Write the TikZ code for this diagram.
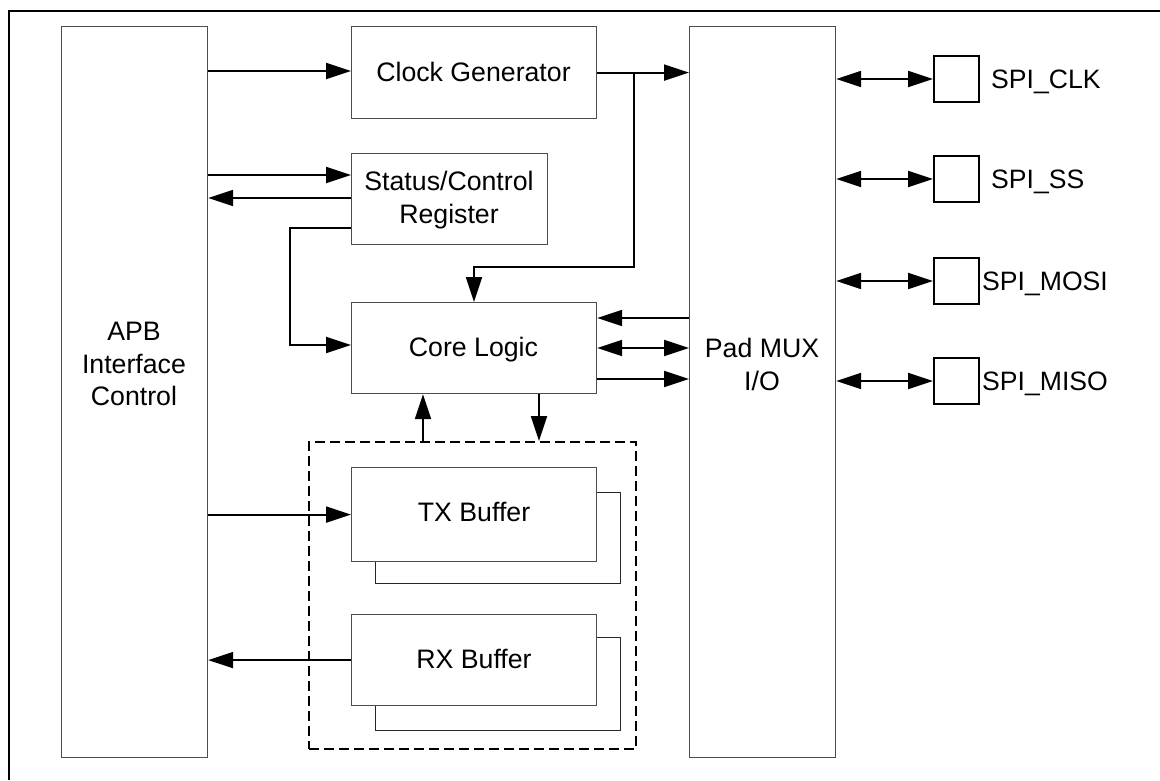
\documentclass[tikz,border=0pt]{standalone}
\usepackage{fontspec}
\setmainfont{Liberation Sans}
\usetikzlibrary{arrows.meta,calc}
\begin{document}
\begin{tikzpicture}[x=1pt,y=-1pt,
  box/.style={draw=black!70,line width=1.2pt,fill=white,inner sep=0pt,anchor=north west},
  shadowbox/.style={draw=black!85,line width=1.2pt,fill=white,inner sep=0pt,anchor=north west},
  pinbox/.style={draw=black,line width=2pt,fill=white,inner sep=0pt,minimum width=45pt,minimum height=46pt},
  dashbox/.style={draw=black,line width=2pt,dash pattern=on 10pt off 5pt,inner sep=0pt,anchor=north west},
  txt/.style={inner sep=0pt,font=\fontsize{26.7}{32.5}\selectfont,align=center},
  lbl/.style={inner sep=0pt,font=\fontsize{26.6}{32.5}\selectfont,anchor=base west},
  wire/.style={line width=2pt},
  arr/.style={line width=2pt,-{Triangle[length=25pt,width=16pt]}},
  darr/.style={line width=2pt,{Triangle[length=25pt,width=16pt]}-{Triangle[length=25pt,width=16pt]}},
  frame/.style={line width=2.2pt}]
\useasboundingbox (0,0) rectangle (1160,780);
% outer frame (top and left edges)
\draw[frame] (9,780) -- (9,11) -- (1160,11);

% main blocks
\node[box,minimum width=146pt,minimum height=731pt] (apb) at (61,26) {};
\node[box,minimum width=245pt,minimum height=92pt] (clk) at (351,26) {};
\node[box,minimum width=196pt,minimum height=91pt] (stat) at (351,153) {};
\node[box,minimum width=245pt,minimum height=91pt] (core) at (351,302) {};
\node[box,minimum width=146pt,minimum height=731pt] (pad) at (689,26) {};

% buffer group
\node[dashbox,minimum width=327pt,minimum height=307pt] (buf) at (308,441) {};
\node[shadowbox,minimum width=245pt,minimum height=91pt] (txs) at (375,492) {};
\node[box,minimum width=245pt,minimum height=94pt] (tx) at (351,467) {};
\node[shadowbox,minimum width=245pt,minimum height=93pt] (rxs) at (375,637) {};
\node[box,minimum width=245pt,minimum height=91pt] (rx) at (351,614) {};

% pins
\node[pinbox] (pclk) at (956.5,79) {};
\node[pinbox] (pss) at (956.5,179) {};
\node[pinbox] (pmosi) at (956.5,281) {};
\node[pinbox] (pmiso) at (956.5,381) {};

% texts
\node[txt,anchor=north] (apbt) at (134,322) {APB\\Interface\\Control};
\node[txt,anchor=base] (clkt) at (473.5,81.7) {Clock Generator};
\node[txt,anchor=north] (statt) at (449,171) {Status/Control\\Register};
\node[txt,anchor=base] (coret) at (473.5,356) {Core Logic};
\node[txt,anchor=base] (txt1) at (474,521.7) {TX Buffer};
\node[txt,anchor=base] (rxt1) at (474,668) {RX Buffer};
\node[txt,anchor=north] (padt) at (762,338) {Pad MUX\\I/O};
\node[lbl] (lclk) at (991,88) {SPI\_CLK};
\node[lbl] (lss) at (991,188) {SPI\_SS};
\node[lbl] (lmosi) at (982,290) {SPI\_MOSI};
\node[lbl] (lmiso) at (982,390) {SPI\_MISO};

% connectors
\draw[arr] (apb.east |- 0,71) -- (clk.west |- 0,71);
\draw[arr] (clk.east) -- (clk.east -| pad.west);
\coordinate (br) at (634,72);
\coordinate (brk) at (474,267);
\draw[arr] (br) |- (brk) -- (brk |- core.north);

\draw[arr] (apb.east |- 0,175) -- (stat.west |- 0,175);
\draw[arr] (stat.west |- 0,198) -- (apb.east |- 0,198);
\coordinate (sc) at (290,228);
\draw[arr] (stat.west |- sc) -- (sc) |- (core.west |- 0,345);

\draw[arr] (pad.west |- 0,318) -- (core.east |- 0,318);
\draw[darr] (core.east |- 0,348) -- (pad.west |- 0,348);
\draw[arr] (core.east |- 0,379) -- (pad.west |- 0,379);

\draw[arr] (buf.north -| 423,0) -- (core.south -| 423,0);
\draw[arr] (core.south -| 539,0) -- (buf.north -| 539,0);

\draw[arr] (apb.east |- tx.west) -- (tx.west);
\draw[arr] (rx.west) -- (apb.east |- rx.west);

\draw[darr] (pad.east |- pclk.west) -- (pclk.west);
\draw[darr] (pad.east |- pss.west) -- (pss.west);
\draw[darr] (pad.east |- pmosi.west) -- (pmosi.west);
\draw[darr] (pad.east |- pmiso.west) -- (pmiso.west);
\end{tikzpicture}
\end{document}
